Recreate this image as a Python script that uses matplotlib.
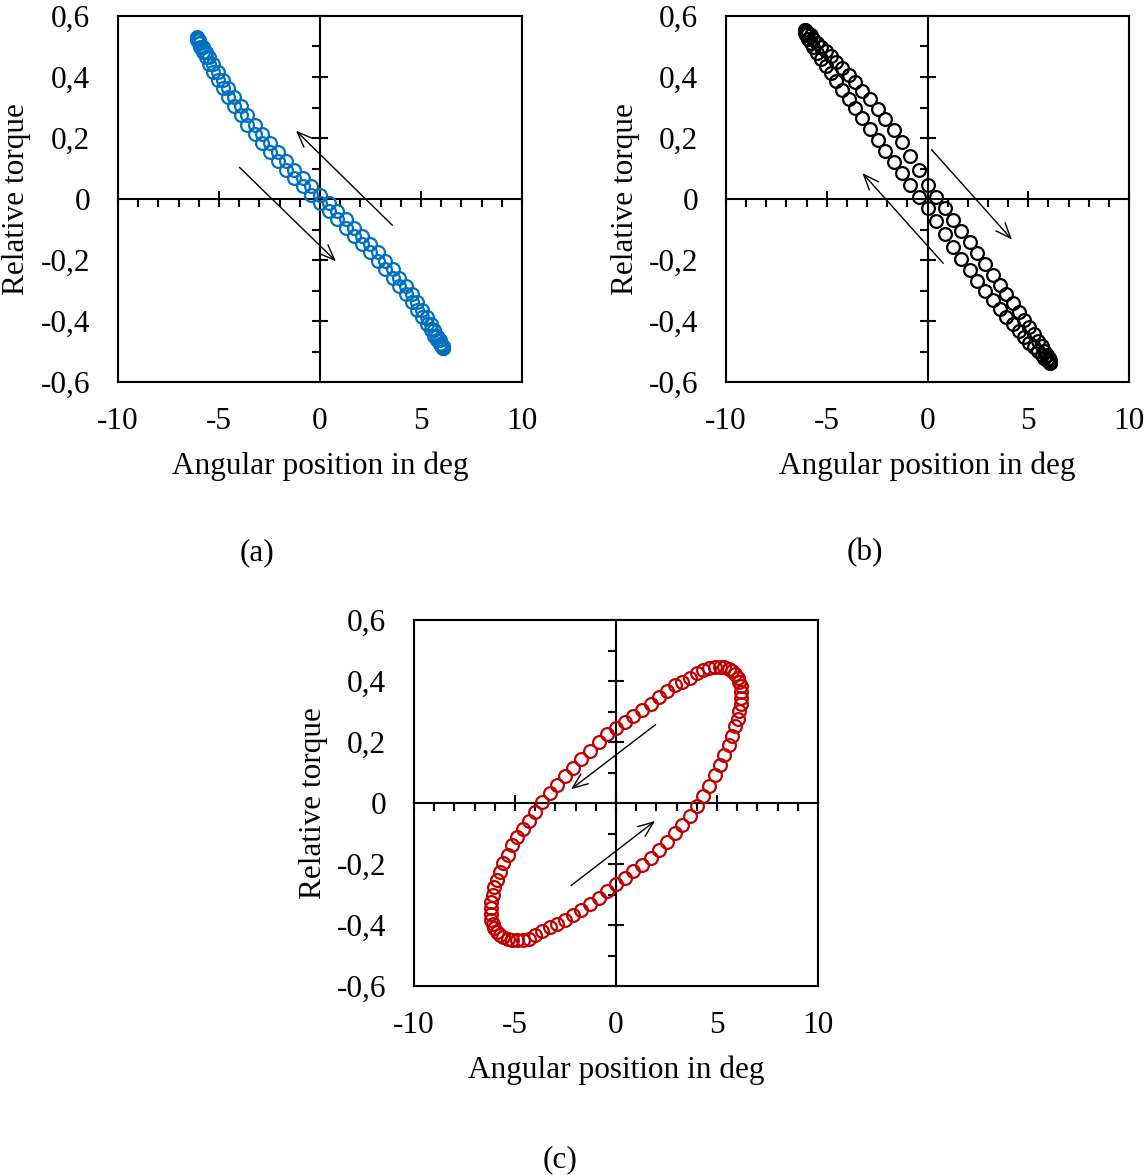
import numpy as np
import matplotlib
matplotlib.use("Agg")
import matplotlib.pyplot as plt
from matplotlib.ticker import MultipleLocator, FuncFormatter

plt.rcParams.update({
    "font.family": ["Liberation Serif", "DejaVu Serif"],
    "font.size": 22.5,
    "axes.linewidth": 1.5,
    "xtick.major.width": 1.5,
    "ytick.major.width": 1.5,
    "xtick.minor.width": 1.5,
    "ytick.minor.width": 1.5,
})

# angular position (deg), panels (a) and (b)
pos_ab = [0, 0.43, 0.85, 1.27, 1.68, 2.09, 2.48, 2.86, 3.23, 3.59, 3.92, 4.24, 4.53, 4.81, 5.06,
          5.28, 5.48, 5.66, 5.80, 5.92, 6.01, 6.07, 6.10,
          6.10, 6.07, 6.01, 5.92, 5.80, 5.66, 5.48, 5.28, 5.06, 4.81, 4.53, 4.24, 3.92, 3.59,
          3.23, 2.86, 2.48, 2.09, 1.68, 1.27, 0.85, 0.43,
          0, -0.43, -0.85, -1.27, -1.68, -2.09, -2.48, -2.86, -3.23, -3.59, -3.92, -4.24, -4.53,
          -4.81, -5.06, -5.28, -5.48, -5.66, -5.80, -5.92, -6.01, -6.07, -6.10,
          -6.10, -6.07, -6.01, -5.92, -5.80, -5.66, -5.48, -5.28, -5.06, -4.81, -4.53, -4.24,
          -3.92, -3.59, -3.23, -2.86, -2.48, -2.09, -1.68, -1.27, -0.85, -0.43]

torque_a = [-0.013, -0.040, -0.067, -0.094, -0.121, -0.148, -0.175, -0.203, -0.231, -0.259,
            -0.286, -0.313, -0.339, -0.365, -0.388, -0.410, -0.430, -0.448, -0.463, -0.474,
            -0.483, -0.488, -0.490,
            -0.488, -0.483, -0.474, -0.463, -0.448, -0.430, -0.410, -0.388, -0.365, -0.339,
            -0.313, -0.286, -0.259, -0.231, -0.203, -0.175, -0.148, -0.121, -0.094, -0.067,
            -0.040, -0.013,
            0.013, 0.041, 0.068, 0.096, 0.125, 0.154, 0.183, 0.213, 0.243, 0.274, 0.304, 0.334,
            0.363, 0.391, 0.417, 0.442, 0.464, 0.483, 0.500, 0.513, 0.522, 0.528, 0.530,
            0.528, 0.522, 0.513, 0.500, 0.483, 0.464, 0.442, 0.417, 0.391, 0.363, 0.334, 0.304,
            0.274, 0.243, 0.213, 0.183, 0.154, 0.125, 0.096, 0.068, 0.041, 0.013]

torque_b = [-0.030, -0.073, -0.115, -0.157, -0.196, -0.234, -0.268, -0.301, -0.332, -0.360,
            -0.387, -0.411, -0.433, -0.454, -0.471, -0.486, -0.499, -0.510, -0.521, -0.529,
            -0.534, -0.537, -0.537,
            -0.534, -0.529, -0.521, -0.510, -0.497, -0.482, -0.464, -0.444, -0.421, -0.397,
            -0.371, -0.342, -0.312, -0.281, -0.248, -0.214, -0.178, -0.142, -0.105, -0.068,
            -0.030, 0.008,
            0.046, 0.094, 0.141, 0.186, 0.226, 0.263, 0.296, 0.327, 0.355, 0.382, 0.407, 0.429,
            0.449, 0.468, 0.485, 0.500, 0.513, 0.526, 0.537, 0.545, 0.550, 0.553, 0.553,
            0.550, 0.545, 0.537, 0.526, 0.513, 0.498, 0.480, 0.460, 0.437, 0.413, 0.387, 0.358,
            0.328, 0.297, 0.264, 0.230, 0.194, 0.158, 0.121, 0.084, 0.046, 0.008]

pos_c = [0, 0.43, 0.86, 1.29, 1.71, 2.12, 2.52, 2.91, 3.29, 3.64, 3.99, 4.31, 4.61, 4.89, 5.14,
         5.37, 5.57, 5.75, 5.90, 6.02, 6.11, 6.17, 6.20,
         6.20, 6.17, 6.11, 6.02, 5.90, 5.75, 5.57, 5.37, 5.14, 4.89, 4.61, 4.31, 3.99, 3.64,
         3.29, 2.91, 2.52, 2.12, 1.71, 1.29, 0.86, 0.43,
         0, -0.43, -0.86, -1.29, -1.71, -2.12, -2.52, -2.91, -3.29, -3.64, -3.99, -4.31, -4.61,
         -4.89, -5.14, -5.37, -5.57, -5.75, -5.90, -6.02, -6.11, -6.17, -6.20,
         -6.20, -6.17, -6.11, -6.02, -5.90, -5.75, -5.57, -5.37, -5.14, -4.89, -4.61, -4.31,
         -3.99, -3.64, -3.29, -2.91, -2.52, -2.12, -1.71, -1.29, -0.86, -0.43]

torque_c = [-0.266, -0.245, -0.224, -0.202, -0.179, -0.153, -0.127, -0.099, -0.071, -0.041,
            -0.009, 0.024, 0.056, 0.091, 0.124, 0.157, 0.189, 0.221, 0.252, 0.277, 0.301,
            0.324, 0.345,
            0.364, 0.382, 0.397, 0.411, 0.423, 0.433, 0.440, 0.446, 0.447, 0.446, 0.443, 0.436,
            0.425, 0.410, 0.398, 0.386, 0.368, 0.347, 0.326, 0.305, 0.284, 0.264,
            0.247, 0.227, 0.200, 0.172, 0.144, 0.116, 0.087, 0.060, 0.032, 0.003, -0.029,
            -0.058, -0.085, -0.111, -0.139, -0.169, -0.197, -0.225, -0.252, -0.277, -0.301,
            -0.324, -0.345,
            -0.364, -0.382, -0.397, -0.411, -0.423, -0.433, -0.440, -0.446, -0.449, -0.450,
            -0.449, -0.446, -0.432, -0.420, -0.408, -0.396, -0.382, -0.367, -0.350, -0.331,
            -0.311, -0.289]

# direction arrows: (tail, head) in data units
arrows_a = [((-3.99, 0.104), (0.79, -0.204)), ((3.58, -0.086), (-1.19, 0.224))]
arrows_b = [((0.20, 0.162), (4.19, -0.133)), ((0.78, -0.211), (-3.23, 0.085))]
arrows_c = [((1.96, 0.257), (-2.23, 0.045)), ((-2.23, -0.271), (1.93, -0.059))]

x_ticks = [-10, -5, 0, 5, 10]
y_ticks = [-0.6, -0.4, -0.2, 0, 0.2, 0.4, 0.6]


def comma_fmt(v, _):
    if abs(v) < 1e-9:
        return "0"
    return f"{v:.1f}".replace(".", ",")


def int_fmt(v, _):
    return f"{int(round(v))}"


def panel(rect, x, y, color, arrows, letter, letter_pos):
    ax = fig.add_axes(rect)
    ax.plot(x, y, "o", mfc="none", mec=color, ms=9.2, mew=1.6, ls="none")
    ax.set_xlim(-10, 10)
    ax.set_ylim(-0.6, 0.6)
    ax.set_xticks(x_ticks)
    ax.set_yticks(y_ticks)
    ax.xaxis.set_major_formatter(FuncFormatter(int_fmt))
    ax.yaxis.set_major_formatter(FuncFormatter(comma_fmt))
    ax.tick_params(length=0)
    ax.tick_params(axis="y", pad=20)
    ax.tick_params(axis="x", pad=18)

    # axes crossing at zero
    secx = ax.secondary_xaxis(0.5)
    secx.set_xticks(x_ticks)
    secx.xaxis.set_minor_locator(MultipleLocator(1))
    secx.tick_params(which="major", direction="inout", length=12)
    secx.tick_params(which="minor", direction="in", length=5.5)
    secx.tick_params(labeltop=False, labelbottom=False)
    secy = ax.secondary_yaxis(0.5)
    secy.set_yticks(y_ticks)
    secy.yaxis.set_minor_locator(MultipleLocator(0.1))
    secy.tick_params(which="major", direction="inout", length=12)
    secy.tick_params(which="minor", direction="in", length=6)
    secy.tick_params(labelleft=False, labelright=False)

    for tail, head in arrows:
        ax.annotate("", xy=head, xytext=tail,
                    arrowprops=dict(arrowstyle="->,head_length=0.55,head_width=0.22",
                                    lw=1.0, color="black", shrinkA=0, shrinkB=0,
                                    mutation_scale=20))

    ax.set_xlabel("Angular position in deg")
    ax.xaxis.label.set_verticalalignment("center")
    ax.xaxis.set_label_coords(0.5, -0.2295)
    ax.set_ylabel("Relative torque")
    ax.yaxis.label.set_verticalalignment("center")
    ax.yaxis.set_label_coords(-0.25, 0.5)

    fig.text(letter_pos[0], letter_pos[1], letter, ha="center", va="center")
    return ax


W, H = 1148, 1175
fig = plt.figure(figsize=(W / 100, H / 100), dpi=100)

panel([118 / W, 1 - 382 / H, 404 / W, 366 / H], pos_ab, torque_a, "#0070C0", arrows_a,
      "(a)", (257 / W, 1 - 553 / H))
panel([726 / W, 1 - 382 / H, 403 / W, 366 / H], pos_ab, torque_b, "black", arrows_b,
      "(b)", (865 / W, 1 - 553 / H))
panel([414 / W, 1 - 986 / H, 404 / W, 366 / H], pos_c, torque_c, "#C00000", arrows_c,
      "(c)", (560 / W, 1 - 1160 / H))

fig.savefig("out.png", dpi=100)
